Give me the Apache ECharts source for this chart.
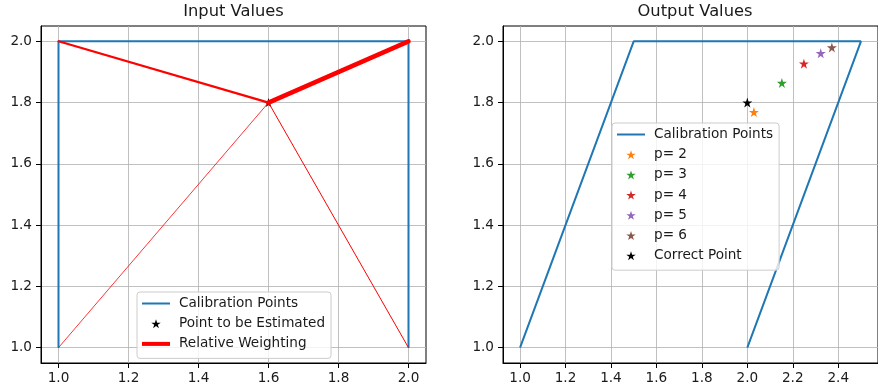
<!DOCTYPE html>
<html><head><meta charset="utf-8">
<script src="https://cdn.jsdelivr.net/npm/echarts@6/dist/echarts.min.js"></script>
<style>html,body{margin:0;padding:0;background:#fff}#c{width:878px;height:389px}</style>
</head><body><div id="c"></div>
<script>
// ---- data ----
const titles = ['Input Values', 'Output Values'];
const inputCalibration = [[1.0, 1.0], [1.0, 2.0], [2.0, 2.0], [2.0, 1.0]];
const pointToEstimate = [[1.6, 1.8]];
const outputCalibration = [[1.0, 1.0], [1.5, 2.0], [2.5, 2.0], [2.0, 1.0]];
const pNames = ['p= 2', 'p= 3', 'p= 4', 'p= 5', 'p= 6'];
const pPoints = [[2.029, 1.769], [2.152, 1.864], [2.249, 1.927], [2.323, 1.961], [2.372, 1.980]];
const correctPoint = [[2.0, 1.8]];
const inputXTicks = [1.0, 1.2, 1.4, 1.6, 1.8, 2.0];
const outputXTicks = [1.0, 1.2, 1.4, 1.6, 1.8, 2.0, 2.2, 2.4];
const yTicks = [1.0, 1.2, 1.4, 1.6, 1.8, 2.0];

// ---- styling ----
const FONT = 'DejaVu Sans';
const TXT = '#1a1a1a';
const STAR = 'path://M0,-10 L2.245,-3.09 L9.511,-3.09 L3.633,1.18 L5.878,8.09 L0,3.82 L-5.878,8.09 L-3.633,1.18 L-9.511,-3.09 L-2.245,-3.09 Z';
const LINE2 = 'path://M0,0L28,0L28,2L0,2Z';
const LINE4 = 'path://M0,0L28,0L28,4L0,4Z';
const blue = '#1f77b4';
const pColors = ['#ff7f0e', '#2ca02c', '#d62728', '#9467bd', '#8c564b'];
const weightWidths = [0.8, 2.2, 4.5, 1.0];

function xAxis(idx, min, max, ticks) {
  return {
    type: 'value', gridIndex: idx, min: min, max: max,
    axisLine: { show: true, onZero: false, lineStyle: { color: '#000', width: 1 } },
    axisTick: { show: true, length: 5, lineStyle: { color: '#000' }, customValues: ticks },
    axisLabel: { color: TXT, fontFamily: FONT, fontSize: 13.6, margin: 8, customValues: ticks,
      formatter: v => v.toFixed(1) },
    splitLine: { show: true, lineStyle: { color: '#b0b0b0', width: 0.8 } }
  };
}
function yAxis(idx) {
  return {
    type: 'value', gridIndex: idx, min: 0.95, max: 2.05,
    axisLine: { show: true, onZero: false, lineStyle: { color: '#000', width: 1 } },
    axisTick: { show: true, length: 5, lineStyle: { color: '#000' }, customValues: yTicks },
    axisLabel: { color: TXT, fontFamily: FONT, fontSize: 13.6, margin: 9, customValues: yTicks,
      formatter: v => v.toFixed(1) },
    splitLine: { show: true, lineStyle: { color: '#b0b0b0', width: 0.8 } }
  };
}

const series = [];
series.push({ type: 'line', name: 'Calibration Points', xAxisIndex: 0, yAxisIndex: 0,
  data: inputCalibration, symbol: 'none', lineStyle: { color: blue, width: 2 }, itemStyle: { color: blue }, z: 3 });
series.push({ type: 'scatter', name: 'Point to be Estimated', xAxisIndex: 0, yAxisIndex: 0,
  data: pointToEstimate, symbol: STAR, symbolSize: 9, itemStyle: { color: '#000', opacity: 1 }, z: 4 });
inputCalibration.forEach((c, i) => {
  series.push({ type: 'line', name: 'Relative Weighting', xAxisIndex: 0, yAxisIndex: 0,
    data: [pointToEstimate[0], c], symbol: 'none',
    lineStyle: { color: '#ff0000', width: weightWidths[i], cap: 'round' }, itemStyle: { color: '#ff0000' }, z: 5 });
});
series.push({ type: 'line', name: 'Calibration Points ', xAxisIndex: 1, yAxisIndex: 1,
  data: outputCalibration, symbol: 'none', lineStyle: { color: blue, width: 2 }, itemStyle: { color: blue }, z: 3 });
pPoints.forEach((p, i) => {
  series.push({ type: 'scatter', name: pNames[i], xAxisIndex: 1, yAxisIndex: 1,
    data: [p], symbol: STAR, symbolSize: 10, itemStyle: { color: pColors[i], opacity: 1 }, z: 4 });
});
series.push({ type: 'scatter', name: 'Correct Point', xAxisIndex: 1, yAxisIndex: 1,
  data: correctPoint, symbol: STAR, symbolSize: 10, itemStyle: { color: '#000', opacity: 1 }, z: 4 });

const legendBase = {
  orient: 'vertical', itemWidth: 28, itemHeight: 9, itemGap: 5.2,
  padding: [4, 6, 7, 5], backgroundColor: 'rgba(255,255,255,0.8)',
  borderColor: '#cccccc', borderWidth: 1, borderRadius: 3,
  textStyle: { fontFamily: FONT, fontSize: 13.6, color: TXT, lineHeight: 15, padding: [0, 0, 0, 4] },
  selectedMode: false
};

const option = {
  animation: false,
  backgroundColor: '#fff',
  title: [
    { text: titles[0], left: 233.5, top: 4, textAlign: 'center', padding: 0,
      textStyle: { fontFamily: FONT, fontSize: 16.3, fontWeight: 'normal', color: TXT } },
    { text: titles[1], left: 695, top: 4, textAlign: 'center', padding: 0,
      textStyle: { fontFamily: FONT, fontSize: 16.3, fontWeight: 'normal', color: TXT } }
  ],
  grid: [
    { left: 41, right: 452, top: 26, bottom: 26, show: true, borderColor: '#000', borderWidth: 1, backgroundColor: 'transparent' },
    { left: 503, right: -9, top: 26, bottom: 26, show: true, borderColor: '#000', borderWidth: 1, backgroundColor: 'transparent' }
  ],
  xAxis: [xAxis(0, 0.95, 2.05, inputXTicks), xAxis(1, 0.925, 2.575, outputXTicks)],
  yAxis: [yAxis(0), yAxis(1)],
  legend: [
    Object.assign({}, legendBase, { left: 137, top: 292, data: [
      { name: 'Calibration Points', icon: LINE2 },
      { name: 'Point to be Estimated', icon: STAR },
      { name: 'Relative Weighting', icon: LINE4 }
    ] }),
    Object.assign({}, legendBase, { left: 612, top: 123,
      formatter: n => n.trim(),
      data: [{ name: 'Calibration Points ', icon: LINE2 }]
        .concat(pNames.map(n => ({ name: n, icon: STAR })))
        .concat([{ name: 'Correct Point', icon: STAR }]) })
  ],
  series: series
};
const chart = echarts.init(document.getElementById('c'), null, { renderer: 'canvas' });
chart.setOption(option);
</script></body></html>
